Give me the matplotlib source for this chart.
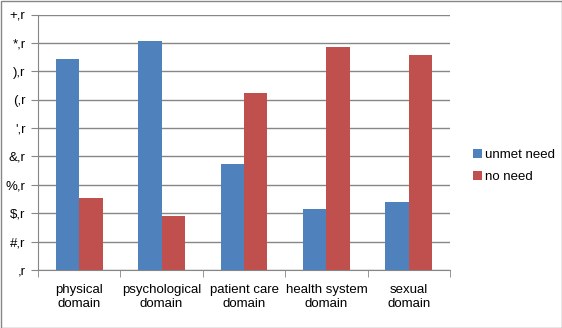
#!/usr/bin/env python3
"""Grouped bar chart: unmet need vs no need per domain."""

import matplotlib

matplotlib.use("Agg")
import matplotlib.pyplot as plt
import numpy as np

CATEGORIES = [
    "physical\ndomain",
    "psychological\ndomain",
    "patient care\ndomain",
    "health system\ndomain",
    "sexual\ndomain",
]
UNMET_NEED = [74.4, 80.8, 37.4, 21.4, 24.0]
NO_NEED = [25.2, 18.9, 62.5, 78.4, 75.7]
TICK_VALUES = [0, 10, 20, 30, 40, 50, 60, 70, 80, 90]
TICK_LABELS = [",r", "#,r", "$,r", "%,r", "&,r", "',r", "(,r", "),r", "*,r", "+,r"]

BLUE = "#4F81BD"
RED = "#C0504D"
GRID = "#868686"

plt.rcParams.update({"font.family": ["Liberation Sans", "DejaVu Sans"], "font.size": 9.5})

fig = plt.figure(figsize=(5.62, 3.28), dpi=100)
ax = fig.add_axes([38 / 562, 1 - 270 / 328, 412 / 562, 255.5 / 328])

x = np.arange(len(CATEGORIES))
width = 0.285
ax.bar(x - width / 2, UNMET_NEED, width, color=BLUE, label="unmet need", zorder=3)
ax.bar(x + width / 2, NO_NEED, width, color=RED, label="no need", zorder=3)

ax.set_xlim(-0.5, len(CATEGORIES) - 0.5)
ax.set_ylim(0, 90)
ax.set_yticks(TICK_VALUES)
ax.set_yticklabels(TICK_LABELS)
ax.set_xticks(x)
ax.set_xticklabels(CATEGORIES)
ax.set_xticks(np.arange(-0.5, len(CATEGORIES), 1), minor=True)
ax.tick_params(axis="x", which="major", length=0, pad=10)
ax.tick_params(axis="x", which="minor", length=5, color=GRID, direction="out")
ax.tick_params(axis="y", length=5, color=GRID, direction="out", pad=4)
ax.yaxis.grid(True, color=GRID, linewidth=1.0, zorder=0)
for side in ("top", "right"):
    ax.spines[side].set_visible(False)
for side in ("left", "bottom"):
    ax.spines[side].set_color(GRID)

ax.legend(
    loc="center left",
    bbox_to_anchor=(461 / 562, 1 - 166 / 328),
    bbox_transform=fig.transFigure,
    frameon=False,
    handlelength=0.7,
    handleheight=0.7,
    handletextpad=0.25,
    labelspacing=0.75,
    fontsize=9.5,
)

fig.patches.append(
    plt.Rectangle((0.5 / 562, 0.5 / 328), 561 / 562, 327 / 328, transform=fig.transFigure,
                  fill=False, edgecolor=GRID, linewidth=1.0)
)

fig.savefig("out.png", dpi=100)
